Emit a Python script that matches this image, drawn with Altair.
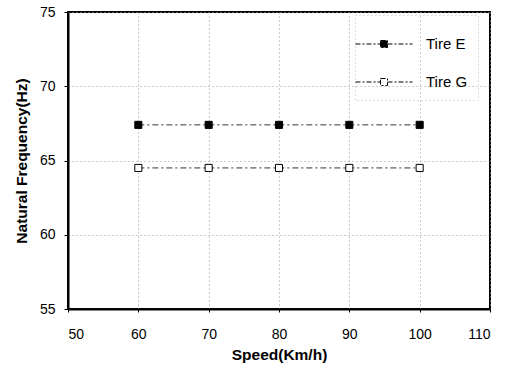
import altair as alt
import pandas as pd

speeds = [60, 70, 80, 90, 100]
tire_e = [67.4, 67.4, 67.4, 67.4, 67.4]
tire_g = [64.5, 64.5, 64.5, 64.5, 64.5]
series_names = ["Tire E", "Tire G"]

rows = []
for s, v in zip(speeds, tire_e):
    rows.append({"speed": s, "freq": v, "series": series_names[0]})
for s, v in zip(speeds, tire_g):
    rows.append({"speed": s, "freq": v, "series": series_names[1]})
df = pd.DataFrame(rows)

FONT = "Liberation Sans"

x = alt.X("speed:Q", title="Speed(Km/h)",
          scale=alt.Scale(domain=[50, 110], nice=False, zero=False),
          axis=alt.Axis(values=[50, 60, 70, 80, 90, 100, 110], labelPadding=15, tickSize=3))
y = alt.Y("freq:Q", title="Natural Frequency(Hz)",
          scale=alt.Scale(domain=[55, 75], nice=False, zero=False),
          axis=alt.Axis(values=[55, 60, 65, 70, 75], labelPadding=9, tickSize=4, titlePadding=10))

base = alt.Chart(df)

lines = base.mark_line(color="#333", strokeWidth=1, strokeDash=[6, 3, 2, 3]).encode(
    x=x, y=y, detail="series:N"
)

sym_path = "M-1.54,0H-0.19M0.19,0H1.54M-0.19,-0.19H0.19V0.19H-0.19Z"

points = base.mark_point(shape="square", filled=True, stroke="black", strokeWidth=1, size=50, opacity=1).encode(
    x=x, y=y,
    fill=alt.Fill("series:N", scale=alt.Scale(domain=series_names, range=["black", "white"]),
                  legend=alt.Legend(title=None, orient="none", legendX=287, legendY=3,
                                    symbolType=sym_path, symbolSize=1369,
                                    symbolStrokeColor="black", symbolStrokeWidth=1,
                                    symbolDash=[5, 2, 2, 2],
                                    labelOffset=23, rowPadding=11, padding=10,
                                    labelFont=FONT, labelFontSize=15, labelColor="black",
                                    strokeColor="#bbb")),
)

chart = alt.layer(lines, points).properties(
    width=422, height=297,
    padding={"left": 68, "top": 12, "right": 20, "bottom": 63},
    autosize=alt.AutoSizeParams(type="none"),
    background="white",
).configure_view(
    stroke="black", strokeWidth=2
).configure_axis(
    domainColor="black", domainWidth=2,
    tickColor="black", tickWidth=1,
    grid=True, gridColor="#999", gridDash=[1, 3], gridWidth=1,
    labelFont=FONT, labelFontSize=14, labelColor="black",
    titleFont=FONT, titleFontSize=15.5, titleFontWeight="bold", titleColor="black",
).configure_axisX(titlePadding=6).configure_legend(strokeDash=[1, 3])

chart.save("out.html", embed_options={"renderer": "svg", "actions": False})
